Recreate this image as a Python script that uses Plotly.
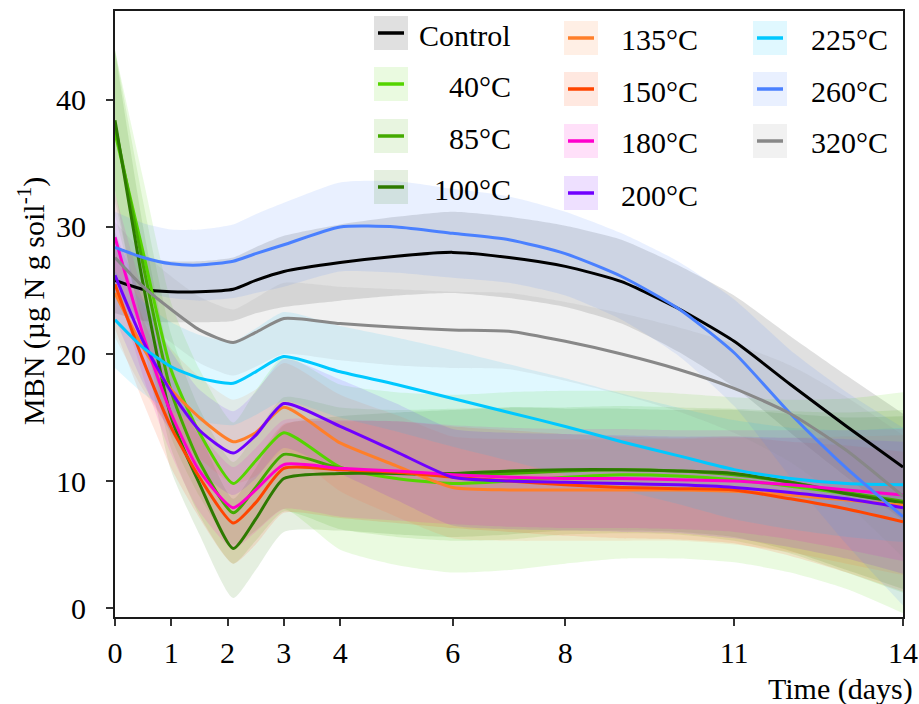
import plotly.graph_objects as go
import numpy as np

days = [0, 0.5, 1, 1.5, 2.1, 2.5, 3, 4, 5, 6, 7, 8, 9, 10, 11, 12, 13, 14]

labels = ["Control", "40°C", "85°C", "100°C", "135°C", "150°C", "180°C",
          "200°C", "225°C", "260°C", "320°C"]
colors = ["#000000", "#55d400", "#44aa00", "#2d7a00", "#ff7f2a", "#ff4500",
          "#ff00cc", "#7000ff", "#00c8ff", "#4a80ff", "#888888"]

control = [25.8, 25.1, 24.9, 24.9, 25.1, 25.8, 26.5, 27.2, 27.7, 28.0, 27.6, 26.9, 25.7, 23.6, 21.0, 17.6, 14.3, 11.1]
t40 = [37.4, 28.0, 18.7, 13.8, 9.8, 11.6, 13.8, 11.1, 10.2, 9.8, 10.0, 10.3, 10.5, 10.4, 10.1, 9.6, 9.0, 8.3]
t85 = [38.0, 27.0, 17.0, 11.5, 7.5, 9.5, 12.1, 11.0, 10.6, 10.5, 10.6, 10.8, 10.9, 10.8, 10.5, 9.9, 9.1, 8.4]
t100 = [38.4, 25.5, 15.0, 9.8, 4.7, 7.0, 10.2, 10.6, 10.6, 10.6, 10.8, 10.9, 10.9, 10.8, 10.6, 9.9, 9.0, 8.3]
t135 = [24.8, 20.5, 17.2, 15.0, 13.1, 13.8, 15.8, 13.0, 11.2, 9.5, 9.3, 9.3, 9.3, 9.3, 9.2, 8.9, 8.5, 8.1]
t150 = [25.5, 19.5, 14.2, 10.3, 6.7, 8.3, 11.0, 10.9, 10.7, 10.3, 10.0, 9.7, 9.5, 9.4, 9.3, 8.6, 7.8, 6.8]
t180 = [29.2, 21.5, 15.3, 10.8, 7.9, 9.3, 11.3, 11.0, 10.8, 10.5, 10.3, 10.2, 10.2, 10.1, 10.0, 9.7, 9.3, 8.9]
t200 = [26.2, 21.0, 17.0, 14.0, 12.2, 13.6, 16.1, 14.3, 12.3, 10.3, 10.0, 9.9, 9.8, 9.7, 9.5, 9.1, 8.6, 7.9]
t225 = [22.7, 20.5, 19.0, 18.1, 17.7, 18.6, 19.8, 18.6, 17.6, 16.5, 15.4, 14.3, 13.1, 12.0, 10.9, 10.2, 9.8, 9.7]
t260 = [28.4, 27.6, 27.1, 27.0, 27.3, 27.9, 28.6, 30.0, 30.0, 29.5, 29.0, 27.9, 26.1, 23.6, 20.1, 15.3, 11.0, 7.2]
t320 = [27.6, 25.3, 23.5, 21.9, 20.9, 21.7, 22.8, 22.4, 22.1, 21.9, 21.8, 21.0, 20.0, 18.8, 17.3, 15.3, 12.4, 8.8]

# half-widths of the shaded confidence bands
hw_control = [2.6, 2.5, 2.4, 2.4, 2.5, 2.6, 2.8, 3.0, 3.1, 3.2, 3.2, 3.2, 3.3, 3.4, 3.6, 3.8, 4.0, 4.2]
hw_40 = [6.5, 5.8, 5.3, 5.0, 4.8, 5.5, 6.0, 6.5, 6.8, 7.0, 7.0, 6.8, 6.6, 6.5, 6.5, 6.8, 7.5, 8.7]
hw_85 = [6.0, 5.0, 4.5, 4.2, 4.0, 4.2, 4.5, 4.8, 5.0, 5.2, 5.2, 5.0, 5.0, 5.0, 5.2, 5.6, 6.3, 7.2]
hw_100 = [5.5, 4.5, 4.2, 4.0, 3.9, 4.0, 4.2, 4.5, 4.8, 5.0, 5.0, 4.8, 4.8, 4.8, 5.0, 5.4, 6.0, 6.8]
hw_135 = [3.5, 3.3, 3.2, 3.2, 3.3, 3.4, 3.5, 3.8, 4.0, 4.0, 4.0, 4.0, 4.0, 4.0, 4.2, 4.5, 5.0, 5.5]
hw_150 = [3.5, 3.3, 3.2, 3.2, 3.2, 3.3, 3.5, 3.8, 4.0, 4.0, 4.0, 4.0, 4.0, 4.0, 4.2, 4.5, 5.0, 5.5]
hw_180 = [3.5, 3.3, 3.2, 3.2, 3.2, 3.3, 3.5, 3.8, 3.9, 3.9, 3.9, 3.9, 3.9, 3.9, 4.0, 4.3, 4.7, 5.2]
hw_200 = [3.4, 3.3, 3.2, 3.2, 3.3, 3.4, 3.5, 3.7, 3.8, 3.8, 3.8, 3.8, 3.8, 3.8, 4.0, 4.3, 4.7, 5.2]
hw_225 = [3.8, 3.6, 3.5, 3.4, 3.3, 3.4, 3.5, 3.6, 3.7, 3.8, 3.8, 3.8, 3.8, 3.8, 3.9, 4.0, 4.2, 4.5]
hw_260 = [2.8, 2.7, 2.7, 2.8, 2.9, 3.1, 3.3, 3.5, 3.6, 3.5, 3.4, 3.3, 3.4, 3.7, 4.2, 5.0, 6.0, 7.0]
hw_320 = [2.8, 2.7, 2.6, 2.6, 2.6, 2.7, 2.8, 2.9, 3.0, 3.0, 3.0, 3.1, 3.2, 3.3, 3.5, 3.8, 4.2, 4.8]

xticks = [0, 1, 2, 3, 4, 6, 8, 11, 14]
yticks = [0, 10, 20, 30, 40]

series = [control, t40, t85, t100, t135, t150, t180, t200, t225, t260, t320]
halfw = [hw_control, hw_40, hw_85, hw_100, hw_135, hw_150, hw_180, hw_200, hw_225, hw_260, hw_320]

FONT = "Liberation Serif"
BAND_ALPHA = 0.12


def rgba(hexc, a):
    h = hexc.lstrip("#")
    r, g, b = int(h[0:2], 16), int(h[2:4], 16), int(h[4:6], 16)
    return f"rgba({r},{g},{b},{a})"


fig = go.Figure()
sh = dict(shape="spline", smoothing=0.6)

for name, col, y, h in zip(labels, colors, series, halfw):
    y = np.array(y)
    h = np.array(h)
    fig.add_trace(go.Scatter(x=days, y=y - h, mode="lines", line=dict(width=0, **sh),
                             showlegend=False, hoverinfo="skip"))
    fig.add_trace(go.Scatter(x=days, y=y + h, mode="lines", fill="tonexty",
                             fillcolor=rgba(col, BAND_ALPHA), line=dict(width=0, **sh),
                             showlegend=False, hoverinfo="skip"))

for name, col, y in zip(labels, colors, series):
    fig.add_trace(go.Scatter(x=days, y=y, mode="lines", name=name,
                             line=dict(color=col, width=3, **sh), showlegend=False))

# layout geometry (pixels)
W, H = 919, 704
L, R, T, B = 115, 16, 11, 87
PW, PH = W - L - R, H - T - B


def px(x):
    return (x - L) / PW


def py(y):
    return (H - B - y) / PH


# custom legend (3 columns, shaded swatch + line)
col_sw_x = [391, 581, 770]
col_txt_x = [513, 700, 890]
col_rows = [[33, 84, 136, 187], [38, 89, 141, 193], [38, 89, 141]]
shapes = []
annotations = []
idx = 0
for c in range(3):
    for r, cy in enumerate(col_rows[c]):
        name, colr = labels[idx], colors[idx]
        cx = col_sw_x[c]
        shapes.append(dict(type="rect", xref="paper", yref="paper",
                           x0=px(cx - 17), x1=px(cx + 17), y0=py(cy + 17), y1=py(cy - 17),
                           fillcolor=rgba(colr, BAND_ALPHA), line=dict(width=0), layer="above"))
        shapes.append(dict(type="line", xref="paper", yref="paper",
                           x0=px(cx - 13), x1=px(cx + 13), y0=py(cy), y1=py(cy),
                           line=dict(color=colr, width=3.5), layer="above"))
        annotations.append(dict(text=name, xref="paper", yref="paper",
                                x=px(col_txt_x[c]), y=py(cy + 2), xanchor="right", yanchor="middle",
                                showarrow=False, font=dict(family=FONT, size=30, color="black")))
        idx += 1

annotations.append(dict(text="Time (days)", xref="paper", yref="paper", x=px(915), y=py(689),
                        xanchor="right", yanchor="middle", showarrow=False,
                        font=dict(family=FONT, size=30, color="black")))
annotations.append(dict(text="MBN (µg N g soil<sup>-1</sup>)", xref="paper", yref="paper",
                        x=px(31), y=py(301), xanchor="center", yanchor="middle", textangle=-90,
                        showarrow=False, font=dict(family=FONT, size=30, color="black")))

axis_common = dict(showgrid=False, zeroline=False, showline=True, linecolor="#1a1a1a",
                   linewidth=2, mirror=True, ticks="outside", ticklen=7, tickwidth=2,
                   automargin=False,
                   tickcolor="#333333", tickfont=dict(family=FONT, size=30, color="black"))

fig.update_layout(
    width=W, height=H,
    margin=dict(l=L, r=R, t=T, b=B, pad=0, autoexpand=False),
    paper_bgcolor="white", plot_bgcolor="white",
    showlegend=False,
    xaxis=dict(range=[0, 14], tickvals=xticks, ticktext=[str(v) for v in xticks],
               ticklabelstandoff=1, **axis_common),
    yaxis=dict(range=[-0.7, 47], tickvals=yticks, ticktext=[str(v) for v in yticks],
               ticklabelstandoff=14, **axis_common),
    shapes=shapes,
    annotations=annotations,
)

fig.write_html("out.html")
